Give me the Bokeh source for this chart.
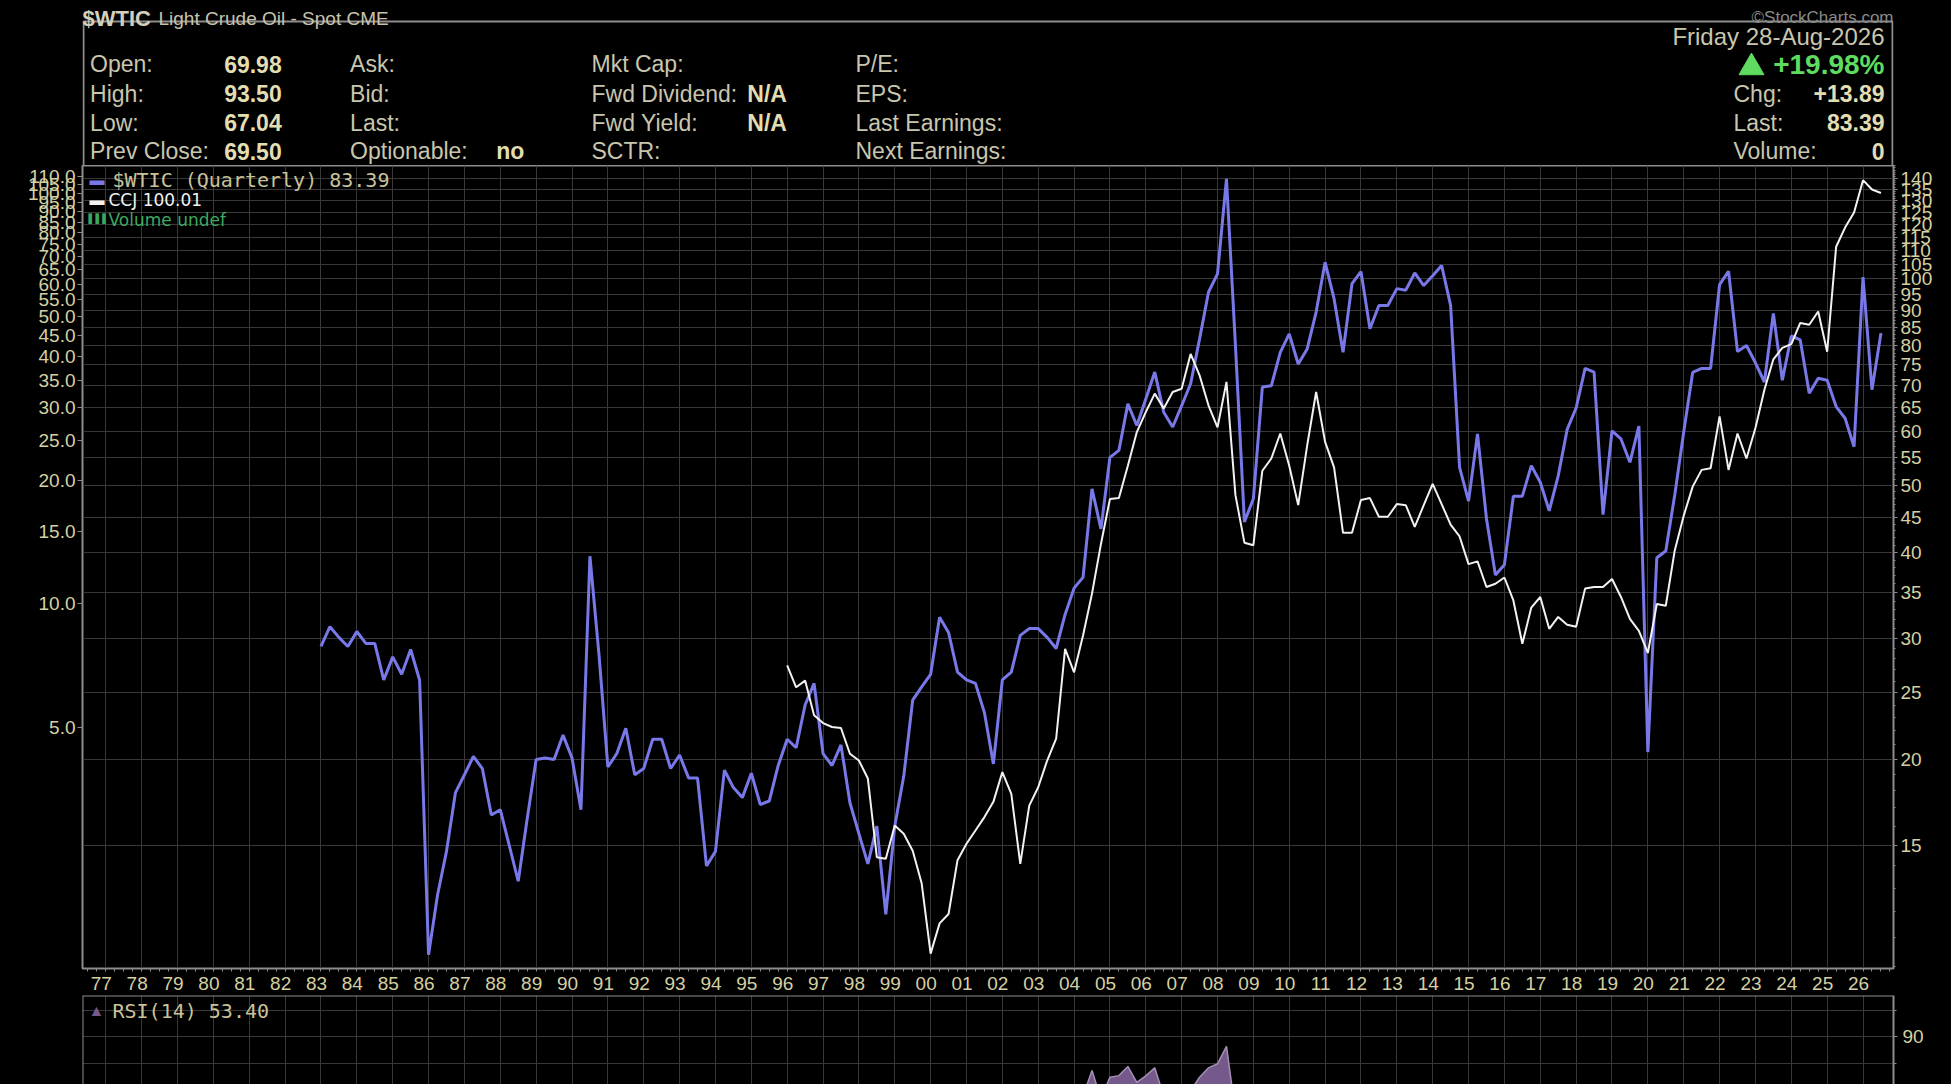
from bokeh.plotting import figure
from bokeh.models import (Range1d, LogAxis, LogScale, FixedTicker, PrintfTickFormatter,
                          CustomJSTickFormatter, Label, CustomJS, Span)
from bokeh.layouts import column
from bokeh.document import Document
from bokeh.embed import file_html
from bokeh.resources import INLINE
from bokeh.core.properties import value

# ---------------- data ----------------
wtic_start = 1983.0          # first quarterly close (Q1 1983)
wtic = [29.2, 31.2, 30.1, 29.2, 30.7, 29.5, 29.5, 26.1, 28.2, 26.6, 28.9, 26.1,
        10.4, 12.7, 14.7, 17.9, 19.0, 20.2, 19.4, 16.6, 16.9, 15.0, 13.3, 16.4,
        20.0, 20.1, 20.0, 21.7, 20.1, 16.9, 39.5, 28.5, 19.5, 20.4, 22.2, 19.0,
        19.4, 21.4, 21.4, 19.4, 20.3, 18.8, 18.8, 14.0, 14.7, 19.3, 18.2, 17.6,
        19.1, 17.2, 17.4, 19.6, 21.4, 20.8, 24.0, 25.8, 20.4, 19.6, 21.0, 17.3,
        15.6, 14.1, 16.0, 11.9, 16.0, 18.9, 24.4, 25.5, 26.6, 32.2, 30.6, 26.8,
        26.1, 25.8, 23.4, 19.7, 26.1, 26.8, 30.3, 31.0, 31.0, 30.1, 29.0, 32.5,
        35.5, 36.8, 49.5, 43.3, 55.0, 56.3, 65.8, 61.2, 66.9, 73.2, 64.0, 60.9,
        65.4, 70.4, 81.8, 95.7, 101.7, 139.8, 80.0, 44.3, 47.9, 69.6, 69.9, 78.2,
        83.2, 75.2, 79.1, 89.5, 105.7, 93.6, 78.2, 98.4, 102.5, 84.6, 91.5, 91.5,
        96.8, 96.3, 102.0, 97.8, 101.1, 104.6, 91.5, 53.2, 47.5, 59.5, 44.8, 37.1,
        38.4, 48.3, 48.3, 53.5, 50.6, 46.0, 51.7, 60.4, 64.9, 74.1, 73.2, 45.4,
        60.1, 58.5, 54.1, 61.1, 20.5, 39.3, 40.2, 48.5, 59.9, 73.1, 74.1, 74.1,
        98.1, 102.6, 78.4, 80.0, 75.5, 70.8, 89.1, 71.2, 82.6, 81.5, 68.2, 71.7,
        71.2, 65.2, 62.7, 57.0, 100.6, 69.0, 83.39]

ccj_start = 1996.0
ccj = [7.09, 6.27, 6.51, 5.36, 5.13, 5.02, 4.99, 4.32, 4.16, 3.76, 2.42, 2.40,
       2.89, 2.76, 2.51, 2.09, 1.41, 1.67, 1.76, 2.38, 2.61, 2.81, 3.03, 3.30,
       3.90, 3.45, 2.33, 3.23, 3.58, 4.16, 4.70, 7.78, 6.82, 8.38, 10.6, 14.0,
       18.0, 18.1, 21.7, 26.2, 29.3, 32.5, 29.9, 32.8, 33.4, 40.6, 36.0, 30.4,
       26.9, 34.7, 18.4, 14.1, 13.9, 21.1, 22.6, 26.0, 21.7, 17.4, 24.3, 32.8,
       24.8, 21.5, 14.9, 14.9, 17.9, 18.1, 16.3, 16.3, 17.5, 17.4, 15.4, 17.4,
       19.6, 17.5, 15.6, 14.6, 12.5, 12.7, 11.0, 11.2, 11.6, 10.2, 8.0, 9.8,
       10.4, 8.7, 9.3, 8.9, 8.8, 10.9, 11.0, 11.0, 11.5, 10.4, 9.2, 8.6,
       7.6, 10.0, 9.9, 13.5, 16.4, 19.3, 21.2, 21.4, 28.6, 21.2, 26.0, 22.6,
       26.8, 33.2, 39.4, 42.0, 42.9, 48.3, 47.8, 51.5, 41.1, 74.0, 82.4, 89.7,
       107.5, 102.0, 100.01]

rsi_start = 2003.75          # visible part of RSI(14)
rsi = [60, 66, 68, 77.5, 67, 75.0, 75.6, 79.0, 73.1, 75.5, 78.5, 68, 64, 66,
       70, 75.0, 78.5, 80.0, 86.5, 62, 45]

years = list(range(1977, 2027))
wtic_ticks = list(range(15, 145, 5))
ccj_ticks = list(range(5, 115, 5))
rsi_ticks = [10, 30, 50, 70, 90]

info_col1_labels = ["Open:", "High:", "Low:", "Prev Close:"]
info_col1_values = ["69.98", "93.50", "67.04", "69.50"]
info_col2_labels = ["Ask:", "Bid:", "Last:", "Optionable:"]
info_col3_labels = ["Mkt Cap:", "Fwd Dividend:", "Fwd Yield:", "SCTR:"]
info_col3_values = ["", "N/A", "N/A", ""]
info_col4_labels = ["P/E:", "EPS:", "Last Earnings:", "Next Earnings:"]
right_labels = ["Chg:", "Last:", "Volume:"]
right_values = ["+13.89", "83.39", "0"]

wtic_x = [wtic_start + 0.25 * i for i in range(len(wtic))]
ccj_x = [ccj_start + 0.25 * i for i in range(len(ccj))]
rsi_x = [rsi_start + 0.25 * i for i in range(len(rsi))]

# ---------------- style ----------------
W = 1951
FL, FR = 82, 1893            # frame left / right in page pixels
BL, BR = FL, W - FR
BG = "#000000"
GRID = "#383838"
FRAME = "#8c8c8c"
TICK_TXT = "#d5d0a3"
LBL = "#c9c6ae"
VAL = "#e3ddb2"
BLUE = "#7878e8"
WHITE = "#f2f2f2"
GREEN = "#5fdc5f"
VOLG = "#3da860"
PURP_FILL = "#74598a"
PURP_LINE = "#a48fb5"
FONT = "Liberation Sans"
MONO = "DejaVu Sans Mono"
X0, X1 = 1976.35, 2026.85
LABEL_SHIFT = 0.125          # year labels sit slightly left of the year line

# ---------------- header (page-pixel coordinates) ----------------
hdr = figure(width=W, height=165, x_range=Range1d(FL, FR), y_range=Range1d(165, 0),
             x_axis_location=None, y_axis_location=None, toolbar_location=None,
             output_backend="svg", min_border_left=BL, min_border_right=BR,
             min_border_top=0, min_border_bottom=0, outline_line_color=None,
             background_fill_color=BG, border_fill_color=BG)
hdr.grid.visible = False
hdr.quad(left=[FL + 1], right=[FR - 1], top=[21], bottom=[166], fill_color=None,
         line_color=FRAME, line_width=2)

hdr.text(x=[FL], y=[18], text=["$WTIC"], text_font=value(FONT), text_font_style="bold",
         text_font_size="22px", text_color="#d3cfbb", text_baseline="alphabetic")
hdr.text(x=[158], y=[18], text=["Light Crude Oil - Spot CME"], text_font=value(FONT),
         text_font_size="19px", text_color="#c7c3ad", text_baseline="alphabetic")
hdr.text(x=[FR], y=[17], text=["\u00a9StockCharts.com"], text_font=value(FONT),
         text_font_size="17px", text_color="#8a8a8a", text_align="right",
         text_baseline="alphabetic")

rows = [63.5, 93.3, 122, 150.6]
common = dict(text_font=value(FONT), text_font_size="23px", text_baseline="middle")
hdr.text(x=[89.6] * 4, y=rows, text=info_col1_labels, text_color=LBL, **common)
hdr.text(x=[281.2] * 4, y=rows, text=info_col1_values, text_color=VAL,
         text_align="right", text_font_style="bold", **common)
hdr.text(x=[349.6] * 4, y=rows, text=info_col2_labels, text_color=LBL, **common)
hdr.text(x=[523.8], y=[rows[3]], text=["no"], text_color=VAL, text_align="right",
         text_font_style="bold", **common)
hdr.text(x=[591] * 4, y=rows, text=info_col3_labels, text_color=LBL, **common)
hdr.text(x=[786.4] * 4, y=rows, text=info_col3_values, text_color=VAL,
         text_align="right", text_font_style="bold", **common)
hdr.text(x=[855] * 4, y=rows, text=info_col4_labels, text_color=LBL, **common)

hdr.text(x=[1884], y=[36], text=["Friday 28-Aug-2026"], text_color=LBL,
         text_align="right", text_font=value(FONT), text_font_size="24px",
         text_baseline="middle")
hdr.text(x=[1884], y=[64], text=["+19.98%"], text_font=value(FONT),
         text_font_size="28px", text_font_style="bold", text_color=GREEN,
         text_align="right", text_baseline="middle")
hdr.scatter(x=[1751], y=[67], marker="triangle", size=25, fill_color=GREEN,
            line_color=GREEN)
hdr.text(x=[1733] * 3, y=rows[1:], text=right_labels, text_color=LBL, **common)
hdr.text(x=[1884] * 3, y=rows[1:], text=right_values, text_color=VAL,
         text_align="right", text_font_style="bold", **common)

# ---------------- main chart ----------------
main = figure(width=W, height=830, x_range=Range1d(X0, X1), y_range=Range1d(9.93, 146.2),
              y_axis_type="log", y_axis_location="right", toolbar_location=None,
              output_backend="svg", min_border_left=BL, min_border_right=BR,
              min_border_top=0, min_border_bottom=27, background_fill_color=BG,
              border_fill_color=BG, outline_line_color=FRAME, outline_line_width=2)
ry = main.yaxis[0]           # right (WTIC) axis, before adding the left one

main.extra_y_ranges = {"ccj": Range1d(1.297, 116.7)}
main.extra_y_scales = {"ccj": LogScale()}
left_axis = LogAxis(y_range_name="ccj", ticker=FixedTicker(ticks=ccj_ticks),
                    formatter=PrintfTickFormatter(format="%.1f"))
main.add_layout(left_axis, "left")

minor_q = [y + k * 0.25 for y in range(1976, 2027) for k in range(4)]
xa = main.xaxis[0]
xa.ticker = FixedTicker(ticks=[y - LABEL_SHIFT for y in years], minor_ticks=minor_q)
xa.formatter = CustomJSTickFormatter(
    code="const t = Math.round(tick) % 100; return (t < 10 ? '0' : '') + t;")
ry.ticker = FixedTicker(ticks=wtic_ticks, minor_ticks=list(range(10, 147)))
ry.formatter = PrintfTickFormatter(format="%d")

for ax in [xa, ry, left_axis]:
    ax.axis_line_color = FRAME
    ax.major_tick_line_color = FRAME
    ax.minor_tick_line_color = FRAME
    ax.major_tick_in = 0
    ax.minor_tick_in = 0
    ax.major_label_text_color = TICK_TXT
    ax.major_label_text_font = FONT
    ax.major_label_text_font_size = "19px"
xa.major_tick_out = 0
xa.minor_tick_out = 3
xa.major_label_standoff = 5
ry.major_tick_out = 4
ry.minor_tick_out = 2
ry.major_label_standoff = 3
left_axis.major_tick_out = 5
left_axis.minor_tick_line_color = None
left_axis.major_label_standoff = 2

main.xgrid.ticker = FixedTicker(ticks=years)
main.ygrid.ticker = FixedTicker(ticks=wtic_ticks)
main.grid.grid_line_color = GRID
main.grid.grid_line_width = 1

main.line(x=wtic_x, y=wtic, line_color=BLUE, line_width=3)
main.line(x=ccj_x, y=ccj, y_range_name="ccj", line_color=WHITE, line_width=2)

main.add_layout(Label(x=7, y=789, x_units="screen", y_units="screen", text="\u25ac",
                      text_color=BLUE, text_font_size="15px", text_baseline="middle"))
main.add_layout(Label(x=30, y=789, x_units="screen", y_units="screen",
                      text="$WTIC (Quarterly) 83.39", text_color="#c8c29a",
                      text_font=MONO, text_font_size="20px", text_baseline="middle"))
main.add_layout(Label(x=7, y=769, x_units="screen", y_units="screen", text="\u25ac",
                      text_color=WHITE, text_font_size="15px", text_baseline="middle"))
main.add_layout(Label(x=26, y=769, x_units="screen", y_units="screen",
                      text="CCJ 100.01", text_color=WHITE, text_font="DejaVu Sans",
                      text_font_size="17px", text_baseline="middle"))
main.add_layout(Label(x=6, y=750, x_units="screen", y_units="screen", text="\u258c\u258c\u258c",
                      text_color=VOLG, text_font="DejaVu Sans", text_font_size="9px",
                      text_baseline="middle"))
main.add_layout(Label(x=26, y=749, x_units="screen", y_units="screen",
                      text="Volume undef", text_color=VOLG, text_font="DejaVu Sans",
                      text_font_size="17px", text_baseline="middle"))

# ---------------- RSI panel ----------------
rp = figure(width=W, height=89, x_range=main.x_range, y_range=Range1d(72.3, 105.4),
            x_axis_location=None, y_axis_location="right", toolbar_location=None,
            output_backend="svg", min_border_left=BL, min_border_right=BR,
            min_border_top=0, min_border_bottom=0, background_fill_color=BG,
            border_fill_color=BG, outline_line_color=None)
rp.yaxis.ticker = FixedTicker(ticks=rsi_ticks, minor_ticks=list(range(0, 101, 10)))
rp.yaxis.axis_line_color = FRAME
rp.yaxis.axis_line_width = 2
rp.yaxis.major_tick_line_color = FRAME
rp.yaxis.minor_tick_line_color = FRAME
rp.yaxis.major_tick_in = 0
rp.yaxis.minor_tick_in = 0
rp.yaxis.major_tick_out = 4
rp.yaxis.minor_tick_out = 3
rp.yaxis.major_label_text_color = TICK_TXT
rp.yaxis.major_label_text_font = FONT
rp.yaxis.major_label_text_font_size = "19px"
rp.xgrid.ticker = FixedTicker(ticks=years)
rp.ygrid.ticker = FixedTicker(ticks=list(range(0, 101, 10)))
rp.grid.grid_line_color = GRID

rp.varea(x=rsi_x, y1=70, y2=rsi, fill_color=PURP_FILL)
rp.line(x=rsi_x, y=rsi, line_color=PURP_LINE, line_width=1.5)
rp.add_layout(Span(location=105.4, dimension="width", line_color=FRAME, line_width=2))
rp.add_layout(Span(location=X0, dimension="height", line_color=FRAME, line_width=2))
rp.add_layout(Label(x=6, y=74, x_units="screen", y_units="screen", text="\u25b2",
                    text_color=PURP_FILL, text_font_size="16px", text_baseline="middle"))
rp.add_layout(Label(x=30, y=74, x_units="screen", y_units="screen", text="RSI(14) 53.40",
                    text_color="#c8c29a", text_font=MONO, text_font_size="20px",
                    text_baseline="middle"))

layout = column(hdr, main, rp, spacing=0)
doc = Document()
doc.add_root(layout)
try:
    doc.js_on_event("document_ready", CustomJS(
        code="document.body.style.background='#000';"
             "document.documentElement.style.background='#000';"))
except Exception:
    pass

open("out.html", "w").write(file_html(layout, INLINE))
